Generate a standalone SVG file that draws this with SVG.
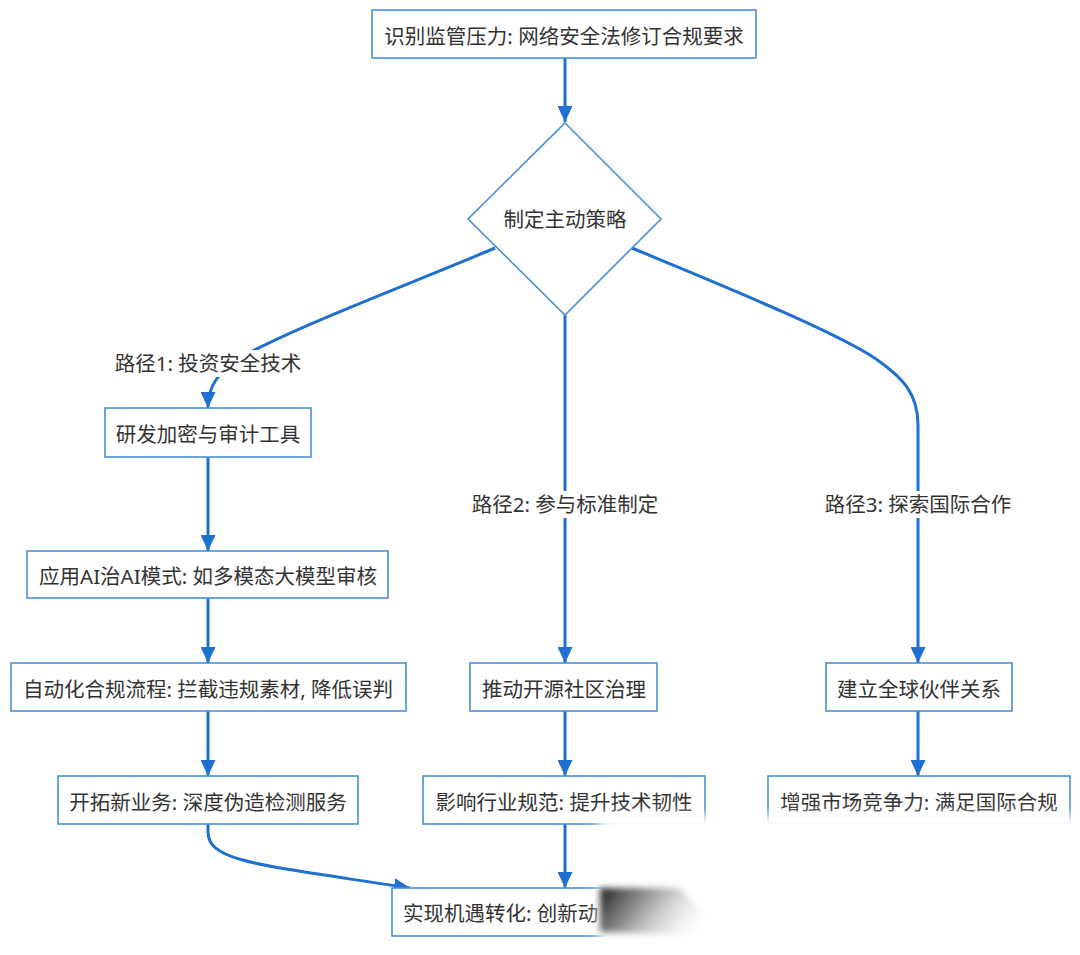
<svg xmlns="http://www.w3.org/2000/svg" width="1080" height="955" viewBox="0 0 1080 955">
<style>
.node rect,.node polygon{fill:#fff;stroke:#4a8fd8;stroke-width:1.6}
text{font-family:"Noto Sans","Noto Sans CJK SC",sans-serif;font-size:20.5px;fill:#333;dominant-baseline:central}
.c{text-anchor:middle}
.edge{fill:none;stroke:#1f70d0;stroke-width:3}
.lbl{fill:#fff}
</style>
<defs>
<marker id="ah" markerUnits="userSpaceOnUse" markerWidth="16" markerHeight="15" refX="16" refY="7.5" orient="auto">
<path d="M0,0 L16,7.5 L0,15 z" fill="#1f70d0"/>
</marker>
<filter id="soft" x="-20%" y="-20%" width="140%" height="140%"><feGaussianBlur stdDeviation="6"/></filter>
<filter id="soft2" x="-20%" y="-20%" width="140%" height="140%"><feGaussianBlur stdDeviation="3"/></filter>
<linearGradient id="smear" x1="0" y1="0" x2="1" y2="0.3">
<stop offset="0" stop-color="#111" stop-opacity="0.95"/>
<stop offset="0.35" stop-color="#555" stop-opacity="0.7"/>
<stop offset="1" stop-color="#ddd" stop-opacity="0"/>
</linearGradient>
</defs>

<g id="connectors">
<path class="edge" d="M565,58 L565,122" marker-end="url(#ah)"/>
<path class="edge" d="M495,248 C420,280 300,325 245,355 C218,372 208,385 208,408" marker-end="url(#ah)"/>
<path class="edge" d="M565,315 L565,663" marker-end="url(#ah)"/>
<path class="edge" d="M632,248 C720,285 820,325 870,355 C905,378 918,395 918,425 L918,663" marker-end="url(#ah)"/>
<path class="edge" d="M208,457 L208,551" marker-end="url(#ah)"/>
<path class="edge" d="M208,598 L208,663" marker-end="url(#ah)"/>
<path class="edge" d="M208,711 L208,776" marker-end="url(#ah)"/>
<path class="edge" d="M208,824 L208,832 C208,862 260,865 410,888" marker-end="url(#ah)"/>
<path class="edge" d="M565,711 L565,776" marker-end="url(#ah)"/>
<path class="edge" d="M565,824 L565,888" marker-end="url(#ah)"/>
<path class="edge" d="M918,711 L918,776" marker-end="url(#ah)"/>
<g id="edge-labels">
<rect class="lbl" x="112" y="350" width="192" height="27"/>
<text class="c" x="208" y="363">路径1: 投资安全技术</text>
<rect class="lbl" x="466" y="491" width="198" height="27"/>
<text class="c" x="565" y="504">路径2: 参与标准制定</text>
<rect class="lbl" x="820" y="491" width="196" height="27"/>
<text class="c" x="918" y="504">路径3: 探索国际合作</text>
</g>
</g>

<g id="n_start" class="node"><rect x="372" y="10" width="384" height="48"/><text class="c" x="564" y="36">识别监管压力: 网络安全法修订合规要求</text></g>
<g id="n_decide" class="node"><polygon points="565,123 661,219 565,315 468,219"/><text class="c" x="565" y="219">制定主动策略</text></g>
<g id="n_a1" class="node"><rect x="105" y="408" width="206" height="49"/><text class="c" x="208" y="434">研发加密与审计工具</text></g>
<g id="n_a2" class="node"><rect x="27" y="551" width="361" height="47"/><text class="c" x="208" y="576">应用AI治AI模式: 如多模态大模型审核</text></g>
<g id="n_a3" class="node"><rect x="11" y="663" width="395" height="48"/><text class="c" x="208" y="689">自动化合规流程: 拦截违规素材, 降低误判</text></g>
<g id="n_a4" class="node"><rect x="58" y="776" width="300" height="48"/><text class="c" x="208" y="802">开拓新业务: 深度伪造检测服务</text></g>
<g id="n_b1" class="node"><rect x="470" y="663" width="187" height="48"/><text class="c" x="564" y="689">推动开源社区治理</text></g>
<g id="n_b2" class="node"><rect x="423" y="776" width="282" height="48"/><text class="c" x="564" y="802">影响行业规范: 提升技术韧性</text></g>
<g id="n_c1" class="node"><rect x="826" y="663" width="186" height="48"/><text class="c" x="919" y="689">建立全球伙伴关系</text></g>
<g id="n_c2" class="node"><rect x="768" y="776" width="302" height="48"/><text class="c" x="919" y="802">增强市场竞争力: 满足国际合规</text></g>
<g id="n_end" class="node"><rect x="392" y="888" width="346" height="48"/><text x="403" y="913">实现机遇转化: 创新动</text></g>

<g id="obscured">
<path d="M598,815 L1090,815 L1090,965 L598,965 Z" fill="#fff" filter="url(#soft)"/>
<path d="M600,888 L680,888 L722,936 L600,932 Z" fill="url(#smear)" filter="url(#soft2)"/>
</g>
</svg>
